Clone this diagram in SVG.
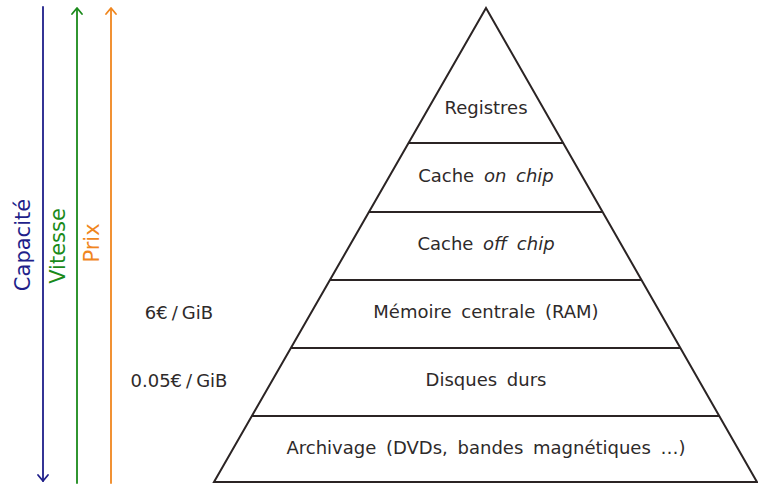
<svg xmlns="http://www.w3.org/2000/svg" width="758" height="484" viewBox="0 0 758 484">
<style>
.t{font-family:"DejaVu Sans",sans-serif;font-size:18px;fill:#2e2a2a;text-anchor:middle;word-spacing:4px}
.ax{font-family:"DejaVu Sans",sans-serif;font-size:21px;text-anchor:middle}
.p{stroke:#2b2424;stroke-width:2;fill:none}
.ar{fill:none;stroke-width:1.8;stroke-linecap:round;stroke-linejoin:round}
</style>
<rect width="758" height="484" fill="#fff"/>
<g id="axes">
<g id="capacite">
<line x1="43" y1="7" x2="43" y2="481" stroke="#1f1f8a" class="ar"/>
<polyline points="38,475 43,481 48,475" stroke="#1f1f8a" class="ar"/>
<text class="ax" fill="#1f1f8a" transform="translate(30,245) rotate(-90)">Capacité</text>
</g>
<g id="vitesse">
<line x1="77" y1="483" x2="77" y2="9" stroke="#1a8a1a" class="ar"/>
<polyline points="72,14 77,8 82,14" stroke="#1a8a1a" class="ar"/>
<text class="ax" fill="#1a8a1a" transform="translate(65,246) rotate(-90)">Vitesse</text>
</g>
<g id="prix">
<line x1="111" y1="483" x2="111" y2="9" stroke="#f0861e" class="ar"/>
<polyline points="106,14 111,8 116,14" stroke="#f0861e" class="ar"/>
<text class="ax" fill="#f0861e" transform="translate(99,243) rotate(-90)">Prix</text>
</g>
</g>
<g id="pyramid">
<polygon class="p" points="486,8 214,482 757,482"/>
<line class="p" x1="408.5" y1="143" x2="563.5" y2="143"/>
<line class="p" x1="369" y1="212" x2="603" y2="212"/>
<line class="p" x1="330" y1="280" x2="642" y2="280"/>
<line class="p" x1="291" y1="348" x2="681" y2="348"/>
<line class="p" x1="252" y1="416" x2="720" y2="416"/>
</g>
<g id="n1"><text class="t" x="486" y="114">Registres</text></g>
<g id="n2"><text class="t" x="486" y="182">Cache <tspan font-style="italic">on chip</tspan></text></g>
<g id="n3"><text class="t" x="486" y="250">Cache <tspan font-style="italic">off chip</tspan></text></g>
<g id="n4"><text class="t" x="486" y="318">Mémoire centrale (RAM)</text></g>
<g id="n5"><text class="t" x="486" y="386">Disques durs</text></g>
<g id="n6"><text class="t" x="486" y="454">Archivage (DVDs, bandes magnétiques …)</text></g>
<g id="prices">
<text class="t" x="179" y="319">6€<tspan dx="4">/</tspan><tspan dx="4">GiB</tspan></text>
<text class="t" x="179" y="387">0.05€<tspan dx="4">/</tspan><tspan dx="4">GiB</tspan></text>
</g>
</svg>
